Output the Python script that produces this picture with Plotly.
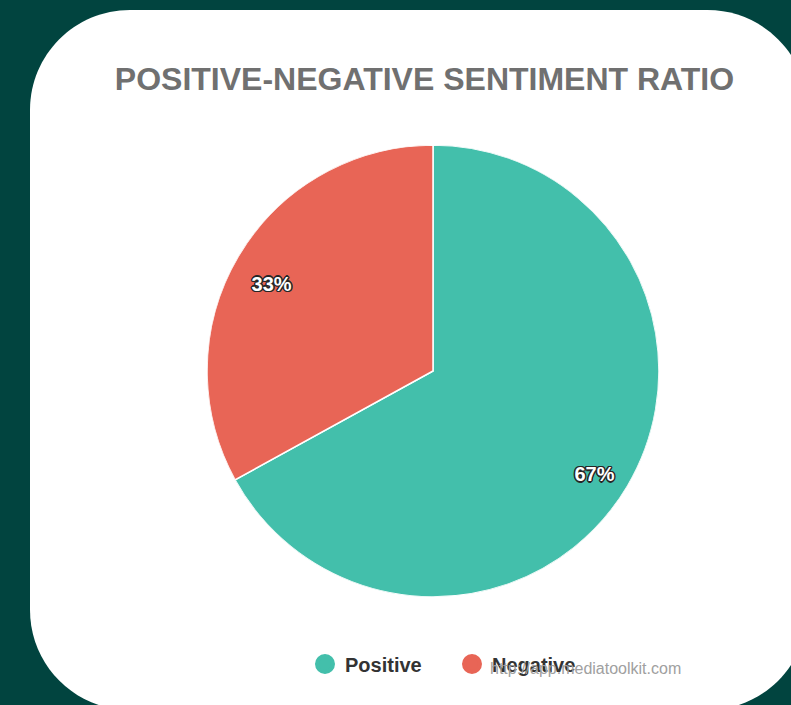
import plotly.graph_objects as go

W, H = 791, 705

categories = ["Positive", "Negative"]
values = [67, 33]
colors = ["#43BFAB", "#E86556"]
title_text = "POSITIVE-NEGATIVE SENTIMENT RATIO"
watermark = "http://app.mediatoolkit.com"


def px(x, y):
    return f"{x / W:.5f},{1 - y / H:.5f}"


def rounded_rect(l, t, r, b, rad):
    k = 0.5523 * rad
    return (
        f"M {px(l + rad, t)} L {px(r - rad, t)} "
        f"C {px(r - rad + k, t)} {px(r, t + rad - k)} {px(r, t + rad)} "
        f"L {px(r, b - rad)} "
        f"C {px(r, b - rad + k)} {px(r - rad + k, b)} {px(r - rad, b)} "
        f"L {px(l + rad, b)} "
        f"C {px(l + rad - k, b)} {px(l, b - rad + k)} {px(l, b - rad)} "
        f"L {px(l, t + rad)} "
        f"C {px(l, t + rad - k)} {px(l + rad - k, t)} {px(l + rad, t)} Z"
    )


oc = "#262626"
outline = ", ".join(f"{dx}px {dy}px 0 {oc}" for dx, dy in
                    [(-1, -1), (1, -1), (-1, 1), (1, 1), (0, -1.5), (0, 1.5), (-1.5, 0), (1.5, 0)])

fig = go.Figure()

cx, cy, R = 433, 371, 226
dom = dict(x=[(cx - R) / W, (cx + R) / W], y=[1 - (cy + R) / H, 1 - (cy - R) / H])

# slices as polar wedges (clockwise from 12 o'clock)
total = sum(values)
mid_angles, spans, pct_text, cum = [], [], [], 0
for v in values:
    spans.append(v / total * 360)
    mid_angles.append((cum + v / 2) / total * 360)
    pct_text.append(f"{round(v / total * 100)}%")
    cum += v

fig.add_trace(go.Barpolar(
    r=[1] * len(values), theta=mid_angles, width=spans,
    marker=dict(color=colors, line=dict(color="white", width=1.5)),
    customdata=categories, hovertemplate="%{customdata}<extra></extra>",
    showlegend=False,
))

fig.add_trace(go.Scatterpolar(
    r=[0.83] * len(values), theta=mid_angles, mode="text", text=pct_text,
    textposition="bottom center",
    textfont=dict(family="Liberation Sans, Arial", size=20, color="white",
                  weight="bold", shadow=outline),
    showlegend=False, hoverinfo="skip",
))

for name, c in zip(categories, colors):
    fig.add_trace(go.Scatter(
        x=[None], y=[None], mode="markers", name=name,
        marker=dict(size=16, color=c, symbol="circle", line=dict(color=c, width=4)),
    ))

fig.update_layout(
    width=W, height=H,
    margin=dict(l=0, r=0, t=0, b=0),
    paper_bgcolor="#01443F",
    plot_bgcolor="rgba(0,0,0,0)",
    xaxis=dict(visible=False),
    yaxis=dict(visible=False),
    polar=dict(domain=dom, bgcolor="rgba(0,0,0,0)", bargap=0,
               radialaxis=dict(range=[0, 1], visible=False),
               angularaxis=dict(rotation=90, direction="clockwise", visible=False)),
    shapes=[dict(type="path", xref="paper", yref="paper", layer="below",
                 path=rounded_rect(30, 10, 807.5, 710, 100),
                 fillcolor="white", line=dict(width=0))],
    title=dict(text=f"<b>{title_text}</b>", x=424.5 / W, xanchor="center",
               y=1 - 79 / H, yanchor="middle",
               font=dict(family="Liberation Sans, Arial", size=32, color="#707070")),
    legend=dict(orientation="h", x=(325 - 20) / W, xanchor="left", y=1 - 664 / H, yanchor="middle",
                font=dict(family="Liberation Sans, Arial", size=20, color="#333333", weight="bold"),
                bgcolor="rgba(0,0,0,0)", entrywidth=102),
    annotations=[dict(text=watermark, xref="paper", yref="paper", x=585 / W, y=1 - 668 / H,
                      showarrow=False, xanchor="center", yanchor="middle",
                      font=dict(family="Liberation Sans, Arial", size=16, color="#A0A0A0"))],
)

fig.write_html("out.html", config={"displayModeBar": False},
               post_script="document.body.style.margin='0';document.body.style.overflow='hidden';")
